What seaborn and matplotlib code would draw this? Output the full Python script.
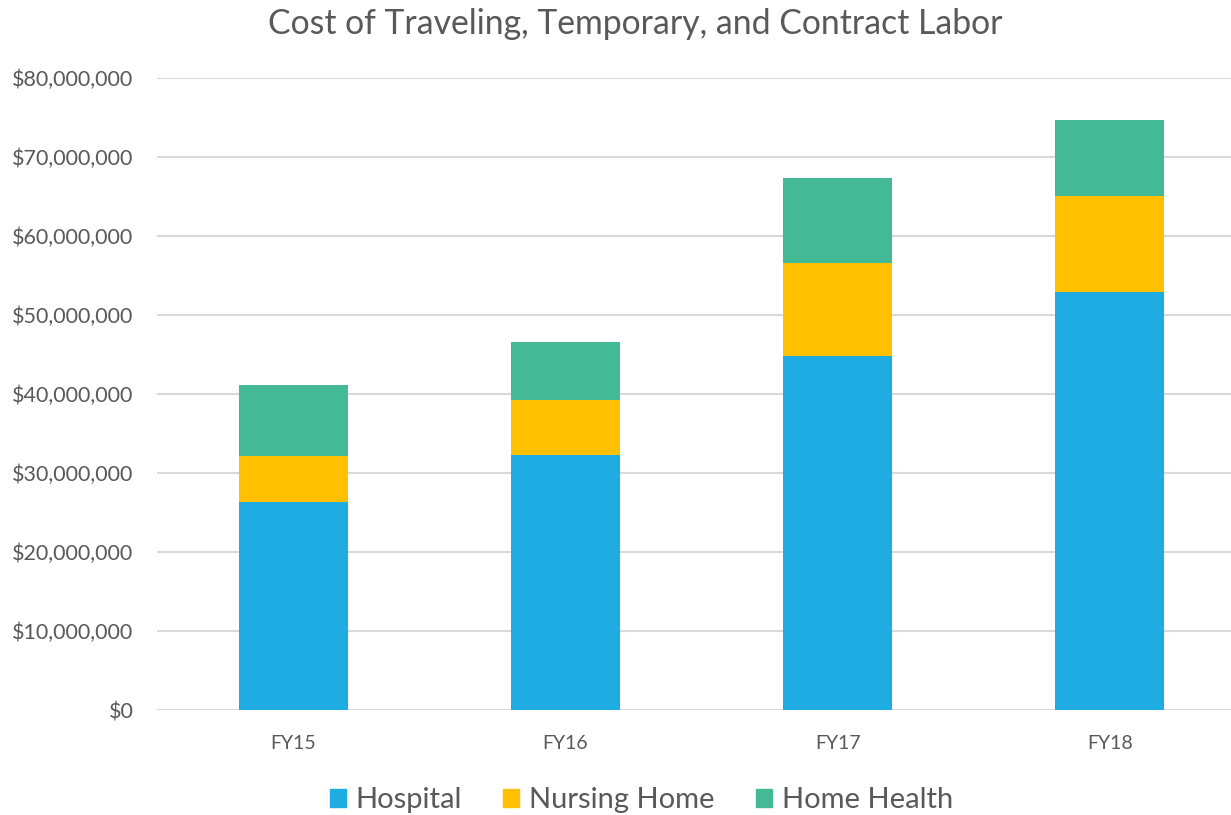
import pandas as pd
import seaborn as sns
import matplotlib.pyplot as plt
from matplotlib.patches import Patch
from matplotlib.ticker import FuncFormatter

# Datos (en millones de dolares)
years = ['FY15', 'FY16', 'FY17', 'FY18']
hospital = [26.3, 32.3, 44.8, 52.9]
nursing_home = [5.9, 6.9, 11.8, 12.2]
home_health = [9.0, 7.4, 10.8, 9.6]

colors = {'Hospital': '#1FACE3', 'Nursing Home': '#FFC000', 'Home Health': '#43BA95'}
text_color = '#595959'

df = pd.DataFrame({'Year': years,
                   'Hospital': hospital,
                   'Nursing Home': nursing_home,
                   'Home Health': home_health})
df['cum_hosp'] = df['Hospital'] * 1e6
df['cum_nurs'] = (df['Hospital'] + df['Nursing Home']) * 1e6
df['cum_home'] = (df['Hospital'] + df['Nursing Home'] + df['Home Health']) * 1e6

sns.set_theme(style='white')
plt.rcParams['font.family'] = ['Lato', 'DejaVu Sans']

fig = plt.figure(figsize=(12.31, 8.15), dpi=100)
ax = fig.add_axes([0.1275, 0.1288, 0.8725, 0.7755])

# Barras apiladas: dibujamos de arriba hacia abajo con los acumulados
for col, name in [('cum_home', 'Home Health'), ('cum_nurs', 'Nursing Home'), ('cum_hosp', 'Hospital')]:
    sns.barplot(data=df, x='Year', y=col, color=colors[name], width=0.4, ax=ax,
                saturation=1, linewidth=0, zorder=3)

ax.set_ylim(0, 80e6)
ax.set_xlim(-0.5, 3.445)
ax.set_yticks([i * 10e6 for i in range(9)])
ax.yaxis.set_major_formatter(FuncFormatter(lambda v, p: '${:,.0f}'.format(v)))
ax.grid(True, axis='y', color='#D9D9D9', linewidth=1.5, zorder=0)
ax.set_axisbelow(True)
sns.despine(ax=ax, left=True, bottom=True, top=True, right=True)
ax.set_xlabel('')
ax.set_ylabel('')
ax.tick_params(axis='x', length=0, labelsize=14, colors=text_color, pad=18)
ax.tick_params(axis='y', length=0, labelsize=15.5, colors=text_color, pad=17)

fig.suptitle('Cost of Traveling, Temporary, and Contract Labor', x=0.516, y=0.99, fontsize=24.3, color=text_color)

handles = [Patch(color=colors[k]) for k in ['Hospital', 'Nursing Home', 'Home Health']]
fig.legend(handles, ['Hospital', 'Nursing Home', 'Home Health'], loc='center', bbox_to_anchor=(0.521, 0.018),
           ncol=3, frameon=False, fontsize=21, labelcolor=text_color,
           handlelength=0.55, handleheight=0.55, handletextpad=0.35, columnspacing=1.4)

plt.savefig('out.png', dpi=100)
